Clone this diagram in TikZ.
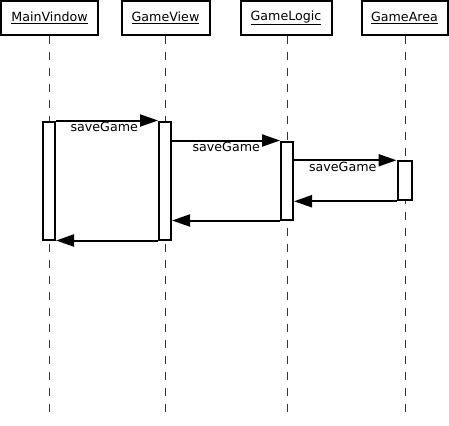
\documentclass[tikz,border=0pt]{standalone}
\usepackage{fontspec}
\setmainfont{DejaVu Sans}
\usetikzlibrary{arrows.meta}
\tikzset{
  objbox/.style={draw, line width=1.5pt, inner sep=0pt, minimum height=25.5pt, font=\fontsize{9.5}{11}\selectfont},
  lifeline/.style={line width=0.75pt, dash pattern=on 6pt off 6pt, black!80},
  actbox/.style={draw, line width=1.5pt, fill=white, inner sep=0pt, minimum width=9pt},
  msg/.style={line width=1.5pt, -{Triangle[length=13.5pt,width=9pt]}},
  msglabel/.style={anchor=north east, inner sep=0.8pt, xshift=-13.5pt, font=\fontsize{9.5}{11}\selectfont}
}
\begin{document}
\begin{tikzpicture}[x=0.75pt,y=-0.75pt]
\useasboundingbox (0,0) rectangle (449,425);
% object boxes
\node[objbox, minimum width=72.75pt] (mw) at (49.5,18) {\underline{MainVindow}};
\node[objbox, minimum width=66pt] (gv) at (165.5,18) {\underline{GameView}};
\node[objbox, minimum width=68.25pt] (gl) at (286,18) {\underline{GameLogic}};
\node[objbox, minimum width=64.5pt] (ga) at (404.5,18) {\underline{GameArea}};
% lifeline ends
\coordinate (mwtop) at (49,35.5);
\coordinate (gvtop) at (165,35.5);
\coordinate (gltop) at (287,35.5);
\coordinate (gatop) at (405,35.5);
\coordinate (mwend) at (49,418);
\coordinate (gvend) at (165,418);
\coordinate (glend) at (287,418);
\coordinate (gaend) at (405,418);
\draw[lifeline] (mwtop) -- (mwend);
\draw[lifeline] (gvtop) -- (gvend);
\draw[lifeline] (gltop) -- (glend);
\draw[lifeline] (gatop) -- (gaend);
% activations
\node[actbox, minimum height=88.5pt] (a1) at (49,180.5) {};
\node[actbox, minimum height=88.5pt] (a2) at (165,180.5) {};
\node[actbox, minimum height=58.5pt] (a3) at (287,180.5) {};
\node[actbox, minimum height=29.25pt, minimum width=10.5pt] (a4) at (404.5,180.75) {};
% messages
\draw[msg] (a1.north east) -- (a2.north west) node[msglabel, pos=1] {saveGame};
\draw[msg] (a2.east |- a3.north west) -- (a3.north west) node[msglabel, pos=1] {saveGame};
\draw[msg] (a3.east |- a4.north west) -- (a4.north west) node[msglabel, pos=1] {saveGame};
% returns
\draw[msg] (a4.south west) -- (a3.east |- a4.south west);
\draw[msg] (a3.south west) -- (a2.east |- a3.south west);
\draw[msg] (a2.south west) -- (a1.south east);
\end{tikzpicture}
\end{document}
